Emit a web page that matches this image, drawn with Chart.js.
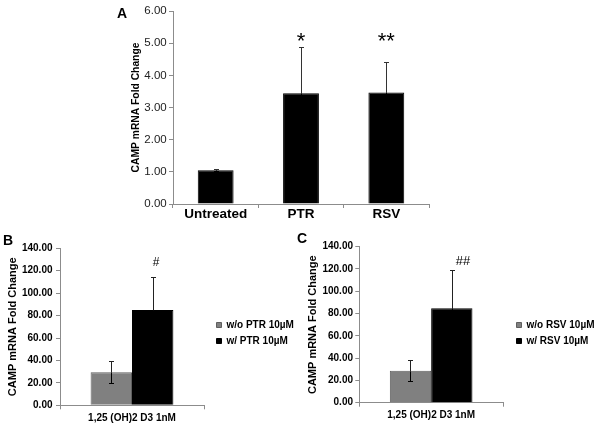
<!DOCTYPE html>
<html><head><meta charset="utf-8">
<script src="https://cdn.jsdelivr.net/npm/chart.js@4.4.0/dist/chart.umd.min.js"></script>
<style>
html,body{margin:0;padding:0;background:#fff;}
#wrap{position:relative;width:600px;height:426px;overflow:hidden;background:#fff;}
canvas{position:absolute;}
.lbl{position:absolute;font:bold 14px "Liberation Sans",Arial,sans-serif;line-height:14px;color:#000;}
</style></head><body>
<div id="wrap">
<canvas id="cA" width="320" height="225" style="left:120px;top:0px;"></canvas>
<canvas id="cB" width="300" height="201" style="left:0px;top:225px;"></canvas>
<canvas id="cC" width="300" height="201" style="left:300px;top:225px;"></canvas>
<div class="lbl" style="left:117px;top:6px;">A</div>
<div class="lbl" style="left:3px;top:233px;">B</div>
<div class="lbl" style="left:297px;top:231px;">C</div>
</div>
<script>
// ---- data ----
const catsA = ['Untreated', 'PTR', 'RSV'];
const valuesA = [1.05, 3.44, 3.47];
const errorsA = [0.03, 1.45, 0.96];
const marksA = ['', '*', '**'];
const markLevelA = 4.85;
const yTicksA = [0, 1, 2, 3, 4, 5, 6];

const catsBC = ['1,25 (OH)2 D3 1nM'];
const seriesB = ['w/o PTR 10µM', 'w/ PTR 10µM'];
const valuesB = [29.4, 85.0];
const errorsB = [9.7, 29.7];
const marksB = ['', '#'];

const seriesC = ['w/o RSV 10µM', 'w/ RSV 10µM'];
const valuesC = [28.7, 84.7];
const errorsC = [9.4, 34.4];
const marksC = ['', '##'];

const markLevelBC = 124;
const yTicksBC = [0, 20, 40, 60, 80, 100, 120, 140];

// ---- styles ----
const fam = '"Liberation Sans", Arial, sans-serif';
const axisGray = '#8c8c8c';

const errPlugin = {
  id: 'errbars',
  afterDatasetsDraw(chart, args, o) {
    const ctx = chart.ctx, ys = chart.scales.y;
    chart.data.datasets.forEach((ds, di) => {
      const meta = chart.getDatasetMeta(di);
      meta.data.forEach((bar, i) => {
        const v = ds.data[i], e = ds.errors[i];
        const xx = Math.round(bar.x) + 0.5;
        const yv = Math.round(ys.getPixelForValue(v)) + 0.5;
        const yt = Math.round(ys.getPixelForValue(v + e)) + 0.5;
        const yb = Math.round(ys.getPixelForValue(v - e)) + 0.5;
        ctx.save();
        ctx.lineWidth = 1;
        ctx.strokeStyle = o.color;
        ctx.beginPath();
        ctx.moveTo(xx, yt); ctx.lineTo(xx, yv);
        ctx.moveTo(xx - o.cap, yt); ctx.lineTo(xx + o.cap, yt);
        ctx.stroke();
        ctx.strokeStyle = '#000';
        ctx.beginPath();
        ctx.moveTo(xx, yv); ctx.lineTo(xx, yb);
        ctx.moveTo(xx - o.cap, yb); ctx.lineTo(xx + o.cap, yb);
        ctx.stroke();
        ctx.restore();
      });
    });
  }
};

const markPlugin = {
  id: 'marks',
  afterDatasetsDraw(chart, args, o) {
    const ctx = chart.ctx, ys = chart.scales.y;
    chart.data.datasets.forEach((ds, di) => {
      const meta = chart.getDatasetMeta(di);
      meta.data.forEach((bar, i) => {
        const t = ds.marks && ds.marks[i];
        if (!t) return;
        ctx.save();
        ctx.font = o.font; ctx.fillStyle = '#000';
        ctx.textAlign = o.align; ctx.textBaseline = 'alphabetic';
        ctx.fillText(t, bar.x + (o.dx || 0), ys.getPixelForValue(o.level));
        ctx.restore();
      });
    });
  }
};

new Chart(document.getElementById('cA'), {
  type: 'bar',
  data: {
    labels: catsA,
    datasets: [{
      data: valuesA, errors: errorsA, marks: marksA,
      backgroundColor: '#000', borderColor: '#000', borderWidth: 1,
      categoryPercentage: 0.42, barPercentage: 1
    }]
  },
  options: {
    responsive: false, animation: false, devicePixelRatio: 1,
    layout: { padding: { top: 11, right: 11, bottom: 0, left: 0 } },
    plugins: {
      legend: { display: false }, tooltip: { enabled: false },
      errbars: { color: '#333', cap: 2.5 },
      marks: { level: markLevelA, font: '22px ' + fam, align: 'center' }
    },
    scales: {
      x: {
        grid: { drawOnChartArea: false, offset: true, tickLength: 4, color: axisGray },
        border: { color: axisGray },
        ticks: { font: { family: fam, size: 13.5, weight: 'bold' }, color: '#000', padding: -2 },
        afterFit: s => { s.height = 21; }
      },
      y: {
        min: 0, max: 6,
        afterBuildTicks: s => { s.ticks = yTicksA.map(v => ({ value: v })); },
        grid: { drawOnChartArea: false, tickLength: 4, color: axisGray },
        border: { color: axisGray },
        ticks: { font: { family: fam, size: 11.5 }, color: '#222', padding: 2.3, callback: v => Number(v).toFixed(2) },
        title: { display: true, text: 'CAMP mRNA Fold Change', font: { family: fam, size: 10.3, weight: 'bold' }, color: '#000', padding: { top: 9.8, bottom: 0 } },
        afterFit: s => { s.width = 53; }
      }
    }
  },
  plugins: [errPlugin, markPlugin]
});

function makeBC(id, series, values, errors, marks, cfg) {
  new Chart(document.getElementById(id), {
    type: 'bar',
    data: {
      labels: catsBC,
      datasets: [
        { label: series[0], data: [values[0]], errors: [errors[0]], marks: [marks[0]],
          backgroundColor: '#808080', borderColor: '#5f5f5f', borderWidth: 1,
          categoryPercentage: 0.575, barPercentage: 1 },
        { label: series[1], data: [values[1]], errors: [errors[1]], marks: [marks[1]],
          backgroundColor: '#000', borderColor: '#000', borderWidth: 1,
          categoryPercentage: 0.575, barPercentage: 1 }
      ]
    },
    options: {
      responsive: false, animation: false, devicePixelRatio: 1,
      layout: { padding: { top: cfg.padT, right: 0, bottom: 0, left: 0 } },
      plugins: {
        tooltip: { enabled: false },
        legend: {
          position: 'right', align: 'center', fullSize: false, maxWidth: cfg.legW,
          title: { display: true, text: '', font: { family: fam, size: 10 }, padding: { top: cfg.legShift - 12, bottom: 0 } },
          labels: { boxWidth: 5, boxHeight: 5, padding: 6, color: '#000', font: { family: fam, size: 10, weight: 'bold' } }
        },
        errbars: { color: '#222', cap: 2.5 },
        marks: { level: markLevelBC, font: cfg.markFont, align: 'left', dx: cfg.markDx }
      },
      scales: {
        x: {
          grid: { drawOnChartArea: false, offset: true, tickLength: 4, color: axisGray },
          border: { color: axisGray },
          ticks: { font: { family: fam, size: 10, weight: 'bold' }, color: '#000', padding: 2.5 },
          afterFit: s => { s.height = cfg.xH; }
        },
        y: {
          min: 0, max: 140,
          afterBuildTicks: s => { s.ticks = yTicksBC.map(v => ({ value: v })); },
          grid: { drawOnChartArea: false, tickLength: 4, color: axisGray },
          border: { color: axisGray },
          ticks: { font: { family: fam, size: 10, weight: 'bold' }, color: '#000', padding: cfg.tickPad, callback: v => Number(v).toFixed(2) },
          title: { display: true, text: 'CAMP mRNA Fold Change', font: { family: fam, size: 11, weight: 'bold' }, color: '#000', padding: { top: 6, bottom: 0 } },
          afterFit: s => { s.width = cfg.yW; }
        },
        y2: {
          type: 'linear', position: 'right', display: true,
          grid: { display: false }, border: { display: false }, ticks: { display: false },
          afterFit: s => { s.width = cfg.gap; }
        }
      }
    },
    plugins: [errPlugin, markPlugin]
  });
}

makeBC('cB', seriesB, valuesB, errorsB, marksB,
  { padT: 23.3, xH: 20.7, yW: 60, gap: 6.5, legW: 89.5, legShift: 12.4, tickPad: 3.5, markFont: '12px ' + fam, markDx: 0 });
makeBC('cC', seriesC, valuesC, errorsC, marksC,
  { padT: 21.7, xH: 23.3, yW: 59.3, gap: 7.5, legW: 89.5, legShift: 16.6, tickPad: 2.3, markFont: '13px ' + fam, markDx: 4 });
</script>
</body></html>
